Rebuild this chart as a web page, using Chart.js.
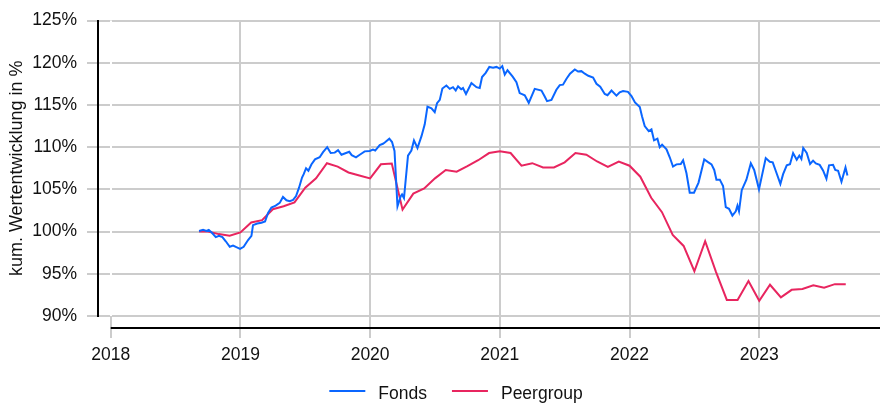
<!DOCTYPE html>
<html>
<head>
<meta charset="utf-8">
<script src="https://cdn.jsdelivr.net/npm/chart.js@4/dist/chart.umd.min.js"></script>
<style>
  html, body { margin: 0; padding: 0; background: #fff; }
  #wrap { width: 880px; height: 405px; }
</style>
</head>
<body>
<div id="wrap"><canvas id="c" width="880" height="405"></canvas></div>
<script>
// ---- data ----
const seriesNames = ['Fonds', 'Peergroup'];
const yearTicks = [2018, 2019, 2020, 2021, 2022, 2023];
const percentTicks = [90, 95, 100, 105, 110, 115, 120, 125];

const fondsX = [2018.681,2018.712,2018.738,2018.756,2018.784,2018.810,2018.835,2018.861,2018.887,2018.918,
2018.943,2018.969,2018.997,2019.025,2019.059,2019.085,2019.097,2019.130,2019.162,2019.190,
2019.213,2019.239,2019.272,2019.303,2019.328,2019.355,2019.380,2019.406,2019.429,2019.452,
2019.475,2019.488,2019.506,2019.524,2019.547,2019.575,2019.611,2019.637,2019.669,2019.696,
2019.727,2019.753,2019.779,2019.804,2019.839,2019.858,2019.891,2019.920,2019.958,2019.997,
2020.022,2020.039,2020.074,2020.099,2020.113,2020.148,2020.169,2020.188,2020.211,2020.236,
2020.246,2020.261,2020.292,2020.318,2020.338,2020.365,2020.396,2020.421,2020.442,2020.473,
2020.498,2020.516,2020.537,2020.557,2020.588,2020.614,2020.639,2020.660,2020.678,2020.702,
2020.716,2020.739,2020.781,2020.820,2020.845,2020.863,2020.891,2020.919,2020.948,2020.974,
2020.999,2021.019,2021.038,2021.059,2021.099,2021.128,2021.153,2021.192,2021.223,2021.269,
2021.321,2021.346,2021.364,2021.398,2021.436,2021.462,2021.487,2021.514,2021.541,2021.578,
2021.603,2021.629,2021.655,2021.682,2021.719,2021.745,2021.774,2021.809,2021.830,2021.861,
2021.899,2021.924,2021.950,2021.988,2022.015,2022.042,2022.079,2022.096,2022.117,2022.148,
2022.169,2022.189,2022.215,2022.233,2022.251,2022.285,2022.310,2022.335,2022.362,2022.395,
2022.413,2022.439,2022.464,2022.497,2022.532,2022.576,2022.608,2022.632,2022.653,2022.670,
2022.696,2022.721,2022.742,2022.767,2022.793,2022.819,2022.832,2022.844,2022.865,2022.901,
2022.935,2022.961,2022.998,2023.050,2023.081,2023.104,2023.127,2023.163,2023.184,2023.212,
2023.237,2023.261,2023.289,2023.309,2023.325,2023.339,2023.366,2023.392,2023.415,2023.436,
2023.466,2023.492,2023.518,2023.538,2023.569,2023.586,2023.608,2023.634,2023.665,2023.680];

const fondsY = [100.07,100.2,100.07,100.2,99.8,99.34,99.5,99.34,98.85,98.2,
98.34,98.15,97.96,98.2,99.0,99.5,100.76,100.96,101.04,101.2,
102.2,102.85,103.07,103.4,104.1,103.7,103.6,103.75,104.2,105.2,
106.4,106.8,107.5,107.2,107.95,108.55,108.8,109.4,110.0,109.3,
109.35,109.65,109.1,109.25,109.45,109.05,108.8,109.1,109.5,109.55,
109.7,109.6,110.25,110.4,110.55,111.0,110.6,109.55,103.0,104.2,
104.4,103.96,109.0,109.6,110.8,109.9,111.3,112.7,114.8,114.6,
114.15,115.2,115.6,116.95,117.3,116.9,117.1,116.7,117.2,116.85,
117.0,116.3,117.6,117.1,117.0,118.3,118.8,119.5,119.4,119.5,
119.3,119.6,118.6,119.1,118.35,117.7,116.4,116.15,115.25,116.9,
116.7,116.0,115.45,115.6,116.8,117.35,117.4,118.1,118.7,119.2,
118.95,119.0,118.7,118.45,118.25,117.5,117.15,116.3,116.15,116.7,
116.1,116.5,116.65,116.55,116.05,115.3,114.75,113.65,112.5,111.9,
112.1,110.8,111.0,110.0,110.3,109.75,108.8,107.7,107.96,108.0,
108.45,106.9,104.6,104.6,105.8,108.55,108.2,107.96,107.3,106.15,
106.15,105.4,102.9,102.7,101.9,102.4,103.07,102.4,104.9,106.15,
108.1,107.3,105.0,108.7,108.26,108.2,107.2,105.65,106.8,107.85,
107.98,109.3,108.5,109.0,108.6,109.9,109.3,108.0,108.4,108.07,
107.9,107.25,106.26,107.85,107.9,107.3,107.2,105.9,107.6,106.65];

const peerX = [2018.681,2018.750,2018.833,2018.917,
2019.000,2019.083,2019.167,2019.250,2019.333,2019.417,2019.500,2019.583,2019.667,2019.750,2019.833,2019.917,
2020.000,2020.083,2020.167,2020.250,2020.333,2020.417,2020.500,2020.583,2020.667,2020.750,2020.833,2020.917,
2021.000,2021.083,2021.167,2021.250,2021.333,2021.417,2021.500,2021.583,2021.667,2021.750,2021.833,2021.917,
2022.000,2022.083,2022.167,2022.250,2022.333,2022.417,2022.500,2022.583,2022.667,2022.750,2022.833,2022.917,
2023.000,2023.083,2023.167,2023.250,2023.333,2023.417,2023.500,2023.583,2023.667];

const peerY = [100.0,100.0,99.7,99.5,
99.9,101.07,101.35,102.65,103.0,103.45,105.2,106.3,108.1,107.7,107.0,106.65,
106.3,107.97,108.05,102.6,104.5,105.1,106.3,107.3,107.1,107.75,108.45,109.3,
109.5,109.3,107.8,108.1,107.6,107.6,108.2,109.3,109.1,108.3,107.65,108.3,
107.8,106.5,104.0,102.3,99.6,98.3,95.3,98.85,95.2,91.9,91.9,94.15,
91.8,93.7,92.2,93.1,93.2,93.65,93.35,93.77,93.77];

// ---- styling ----
const FONT = "'Liberation Sans', Arial, Helvetica, sans-serif";
const TEXT = '#111111';
const GRID = '#cccccc';
const BLUE = '#0a66ff';
const PINK = '#e8255f';

const toPts = (xs, ys) => xs.map((x, i) => ({ x: x, y: ys[i] }));

// legend layout (ggplot-like): key line, gap, label; items separated by a gap
const LEGEND = { keyWidth: 36, keyGap: 13, itemGap: 25, centerX: 456, lineY: 391, textY: 394, fontSize: 17.5 };

const axisAndLegend = {
  id: 'axisAndLegend',
  afterDraw(chart) {
    const { ctx, chartArea, scales } = chart;
    // detached x-axis line
    const x0 = scales.x.getPixelForValue(yearTicks[0]);
    const y = chartArea.bottom + 12;
    ctx.save();
    ctx.strokeStyle = '#000';
    ctx.lineWidth = 2;
    ctx.beginPath();
    ctx.moveTo(x0, y);
    ctx.lineTo(chartArea.right, y);
    ctx.stroke();

    // legend
    ctx.font = LEGEND.fontSize + 'px ' + FONT;
    const items = chart.data.datasets.map(ds => ({ text: ds.label, color: ds.borderColor, w: ctx.measureText(ds.label).width }));
    let total = 0;
    items.forEach((it, i) => { total += LEGEND.keyWidth + LEGEND.keyGap + it.w + (i ? LEGEND.itemGap : 0); });
    let cx = LEGEND.centerX - total / 2;
    ctx.textBaseline = 'middle';
    ctx.textAlign = 'left';
    items.forEach(it => {
      ctx.strokeStyle = it.color;
      ctx.lineWidth = 2;
      ctx.beginPath();
      ctx.moveTo(cx, LEGEND.lineY);
      ctx.lineTo(cx + LEGEND.keyWidth, LEGEND.lineY);
      ctx.stroke();
      ctx.fillStyle = TEXT;
      ctx.fillText(it.text, cx + LEGEND.keyWidth + LEGEND.keyGap, LEGEND.textY);
      cx += LEGEND.keyWidth + LEGEND.keyGap + it.w + LEGEND.itemGap;
    });
    ctx.restore();
  }
};

new Chart(document.getElementById('c'), {
  type: 'line',
  data: {
    datasets: [
      { label: seriesNames[0], data: toPts(fondsX, fondsY), borderColor: BLUE, backgroundColor: BLUE,
        borderWidth: 2, pointRadius: 0, tension: 0, fill: false },
      { label: seriesNames[1], data: toPts(peerX, peerY), borderColor: PINK, backgroundColor: PINK,
        borderWidth: 2, pointRadius: 0, tension: 0, fill: false }
    ]
  },
  options: {
    responsive: false,
    animation: false,
    devicePixelRatio: 1,
    layout: { padding: { top: 12, right: 0, bottom: 43, left: 0 } },
    plugins: {
      tooltip: { enabled: false },
      legend: { display: false }
    },
    scales: {
      y: {
        type: 'linear',
        position: 'left',
        min: 90,
        max: 125,
        afterBuildTicks(scale) { scale.ticks = percentTicks.map(v => ({ value: v })); },
        afterFit(scale) { scale.width = 98; },
        border: { display: true, color: '#000', width: 2 },
        grid: { color: GRID, lineWidth: 2, tickLength: 11, tickColor: GRID, drawTicks: true },
        ticks: {
          color: TEXT, padding: 10,
          font: { family: FONT, size: 17.5 },
          callback: v => v + '%'
        },
        title: {
          display: true,
          text: 'kum. Wertentwicklung in %',
          color: TEXT,
          font: { family: FONT, size: 18 },
          padding: { top: 6, bottom: 0 }
        }
      },
      x: {
        type: 'linear',
        position: 'bottom',
        min: 2017.902,
        max: 2023.931,
        afterBuildTicks(scale) { scale.ticks = yearTicks.map(v => ({ value: v })); },
        afterFit(scale) { scale.height = 46; },
        border: { display: false },
        grid: {
          lineWidth: 2,
          tickLength: 22,
          color: ctx => (ctx.tick && ctx.tick.value === yearTicks[0]) ? '#ffffff' : GRID,
          tickColor: GRID
        },
        ticks: {
          color: TEXT, padding: 7, maxRotation: 0, autoSkip: false,
          font: { family: FONT, size: 17.5 },
          callback: v => String(v)
        }
      }
    }
  },
  plugins: [axisAndLegend]
});
</script>
</body>
</html>
